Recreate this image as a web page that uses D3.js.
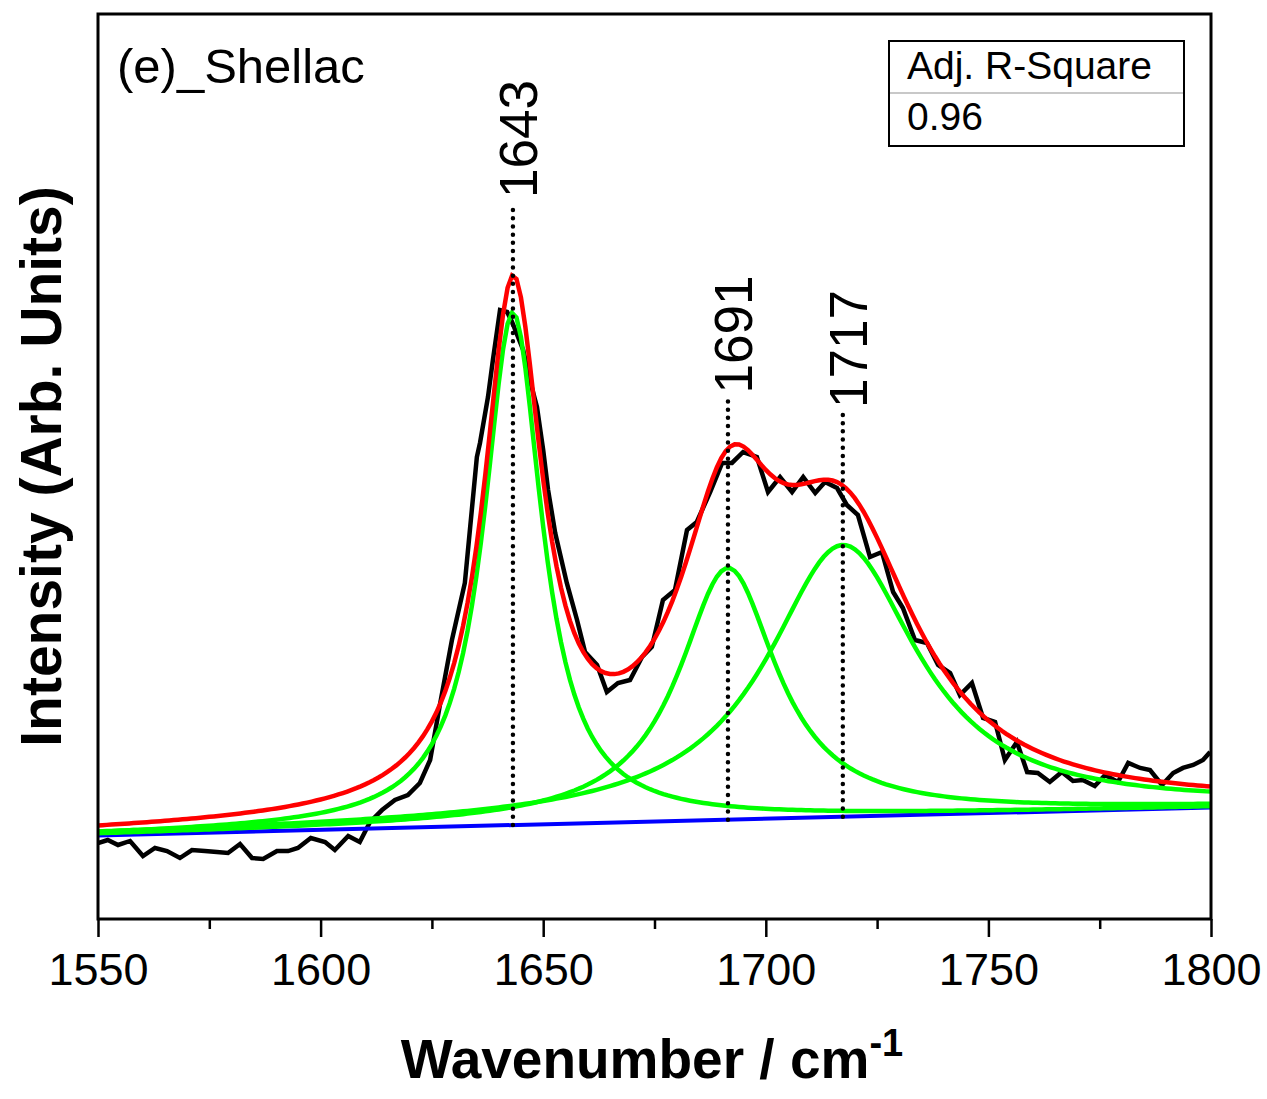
<!DOCTYPE html>
<html>
<head>
<meta charset="utf-8">
<script src="https://cdn.jsdelivr.net/npm/d3@7"></script>
<style>
  html, body { margin: 0; padding: 0; background: #fff; }
  svg text { font-family: "Liberation Sans", Arial, sans-serif; }
</style>
</head>
<body>
<svg id="chart" width="1267" height="1099"></svg>
<script>
// Measured Raman spectrum (wavenumber, intensity in arbitrary units)
const wavenumber = [
  1550.0, 1552.2, 1554.5, 1557.2, 1560.1, 1562.8, 1565.5, 1568.4, 1571.1, 1574.0,
  1576.7, 1579.2, 1581.9, 1584.6, 1587.1, 1590.2, 1592.7, 1594.9, 1597.8, 1601.0,
  1603.2, 1606.2, 1608.8, 1611.1, 1613.8, 1616.7, 1619.6, 1622.3, 1624.6, 1626.8,
  1629.5, 1632.4, 1633.6, 1635.1, 1635.8, 1637.6, 1638.7, 1640.3, 1641.9, 1643.0,
  1645.5, 1647.0, 1648.6, 1650.0, 1651.1, 1652.7, 1655.3, 1657.6, 1659.4, 1662.1,
  1664.3, 1666.8, 1669.5, 1672.2, 1674.4, 1676.9, 1679.6, 1682.3, 1684.5, 1687.5,
  1690.2, 1692.4, 1694.9, 1698.0, 1700.5, 1703.2, 1705.9, 1708.4, 1711.1, 1713.3,
  1716.0, 1718.2, 1720.7, 1723.4, 1726.1, 1728.6, 1730.8, 1733.5, 1736.2, 1738.7,
  1741.4, 1743.6, 1746.3, 1748.8, 1751.5, 1753.7, 1756.4, 1758.7, 1761.1, 1763.8,
  1766.5, 1769.0, 1771.2, 1773.9, 1776.2, 1779.1, 1781.4, 1784.1, 1786.3, 1789.0,
  1791.5, 1793.7, 1796.0, 1798.2, 1799.8
];
const intensity = [
  8.40, 8.73, 8.18, 8.62, 6.96, 7.85, 7.51, 6.74, 7.62, 7.51,
  7.40, 7.29, 8.29, 6.74, 6.63, 7.51, 7.51, 7.85, 8.95, 8.51,
  7.62, 9.17, 8.51, 10.72, 12.04, 13.15, 13.70, 15.03, 17.57, 23.65,
  30.83, 37.13, 43.31, 51.05, 52.60, 57.68, 61.77, 67.29, 67.07, 65.97,
  62.87, 59.56, 56.57, 51.82, 47.40, 42.65, 37.13, 33.04, 29.50, 28.07,
  25.08, 26.08, 26.41, 28.95, 30.06, 35.25, 36.35, 42.98, 43.87, 47.18,
  50.39, 50.39, 51.60, 51.05, 47.18, 48.84, 47.18, 48.84, 47.07, 48.29,
  47.62, 45.75, 44.64, 40.00, 40.55, 36.13, 34.36, 30.83, 30.50, 28.07,
  27.18, 24.75, 26.08, 22.21, 21.77, 17.57, 19.56, 16.24, 16.13, 15.14,
  16.24, 15.25, 15.36, 14.70, 15.91, 15.14, 17.24, 16.69, 16.46, 14.81,
  16.13, 16.69, 17.02, 17.57, 18.45
];

// Linear baseline (intensity at the two ends of the range)
const baselineWavenumber = [1550, 1800];
const baselineIntensity = [9.23, 12.32];

// Fitted Lorentzian components
const peakCenter = [1643.2, 1691.5, 1717.3];
const peakHeight = [56.63, 27.81, 30.03];
const peakFWHM = [16.0, 26.8, 41.2];
const peakLabel = ["1643", "1691", "1717"];
const peakMarkerTop = [79.0, 57.4, 55.8];

// Axis ticks
const majorTicks = [1550, 1600, 1650, 1700, 1750, 1800];
const minorTicks = [1575, 1625, 1675, 1725, 1775];

const sampleLabel = "(e)_Shellac";
const fitStatName = "Adj. R-Square";
const fitStatValue = "0.96";

// ---- layout ----
const svg = d3.select("#chart");
const plotLeft = 98, plotRight = 1211, plotTop = 14, plotBottom = 919;

const x = d3.scaleLinear().domain([1550, 1800]).range([plotLeft, plotRight]);
const y = d3.scaleLinear().domain([0, 100]).range([plotBottom, plotTop]);

const baseline = d3.scaleLinear().domain(baselineWavenumber).range(baselineIntensity);
const lorentz = (i, w) => {
  const hw = peakFWHM[i] / 2;
  const d = (w - peakCenter[i]) / hw;
  return peakHeight[i] / (1 + d * d);
};

const grid = d3.range(1550, 1800.001, 1);

svg.append("defs").append("clipPath").attr("id", "plot-clip")
  .append("rect").attr("x", plotLeft).attr("y", plotTop)
  .attr("width", plotRight - plotLeft).attr("height", plotBottom - plotTop);

const plot = svg.append("g").attr("clip-path", "url(#plot-clip)");
const line = d3.line().x(d => x(d[0])).y(d => y(d[1]));

// measured spectrum
plot.append("path")
  .datum(wavenumber.map((w, i) => [w, intensity[i]]))
  .attr("d", line)
  .attr("fill", "none").attr("stroke", "#000").attr("stroke-width", 4.5)
  .attr("stroke-linejoin", "miter");

// baseline
plot.append("path")
  .datum(baselineWavenumber.map((w, i) => [w, baselineIntensity[i]]))
  .attr("d", line)
  .attr("fill", "none").attr("stroke", "#0000ff").attr("stroke-width", 4);

// individual components on top of the baseline
peakCenter.forEach((c, i) => {
  plot.append("path")
    .datum(grid.map(w => [w, baseline(w) + lorentz(i, w)]))
    .attr("d", line)
    .attr("fill", "none").attr("stroke", "#00ff00").attr("stroke-width", 4.5);
});

// cumulative fit
plot.append("path")
  .datum(grid.map(w => [w, baseline(w) + peakCenter.reduce((s, c, i) => s + lorentz(i, w), 0)]))
  .attr("d", line)
  .attr("fill", "none").attr("stroke", "#ff0000").attr("stroke-width", 4.5);

// peak position markers
peakCenter.forEach((c, i) => {
  svg.append("line")
    .attr("x1", x(c)).attr("x2", x(c))
    .attr("y1", y(baseline(c))).attr("y2", y(peakMarkerTop[i]))
    .attr("stroke", "#000").attr("stroke-width", 4.5)
    .attr("stroke-dasharray", "0,8.2").attr("stroke-linecap", "round");
  svg.append("text")
    .attr("transform", `translate(${x(c) + 24},${y(peakMarkerTop[i]) - 6}) rotate(-90)`)
    .attr("text-anchor", "start")
    .attr("font-size", 53)
    .text(peakLabel[i]);
});

// frame
svg.append("rect")
  .attr("x", plotLeft).attr("y", plotTop).attr("width", plotRight - plotLeft).attr("height", plotBottom - plotTop)
  .attr("fill", "none").attr("stroke", "#000").attr("stroke-width", 3);

// x axis
const xAxis = svg.append("g").attr("transform", `translate(0,${plotBottom})`)
  .call(d3.axisBottom(x).tickValues(majorTicks).tickSize(18).tickSizeOuter(0).tickPadding(16).tickFormat(d3.format("d")));
xAxis.select(".domain").remove();
xAxis.selectAll(".tick line").attr("stroke-width", 2.5);
xAxis.selectAll(".tick text").attr("font-size", 45).attr("font-family", "Liberation Sans, Arial, sans-serif");

const xMinor = svg.append("g").attr("transform", `translate(0,${plotBottom})`)
  .call(d3.axisBottom(x).tickValues(minorTicks).tickSize(10).tickFormat(""));
xMinor.select(".domain").remove();
xMinor.selectAll(".tick line").attr("stroke-width", 2.5);

// axis titles
const xTitle = svg.append("text")
  .attr("x", 652).attr("y", 1078)
  .attr("text-anchor", "middle").attr("font-size", 55).attr("font-weight", "bold");
xTitle.append("tspan").text("Wavenumber / cm");
xTitle.append("tspan").attr("font-size", 38).attr("dy", -22).text("-1");

svg.append("text")
  .attr("transform", `translate(61,${(plotTop + plotBottom) / 2}) rotate(-90)`)
  .attr("text-anchor", "middle").attr("font-size", 57).attr("font-weight", "bold")
  .text("Intensity (Arb. Units)");

// sample label
svg.append("text").attr("x", 117).attr("y", 83).attr("font-size", 49).text(sampleLabel);

// fit statistics table
const tbl = svg.append("g");
tbl.append("rect").attr("x", 889).attr("y", 41).attr("width", 295).attr("height", 105)
  .attr("fill", "#fff").attr("stroke", "#000").attr("stroke-width", 2);
tbl.append("line").attr("x1", 890).attr("x2", 1183).attr("y1", 93).attr("y2", 93)
  .attr("stroke", "#c8c8c8").attr("stroke-width", 2);
tbl.append("text").attr("x", 907).attr("y", 79).attr("font-size", 39).text(fitStatName);
tbl.append("text").attr("x", 907).attr("y", 130).attr("font-size", 39).text(fitStatValue);
</script>
</body>
</html>
